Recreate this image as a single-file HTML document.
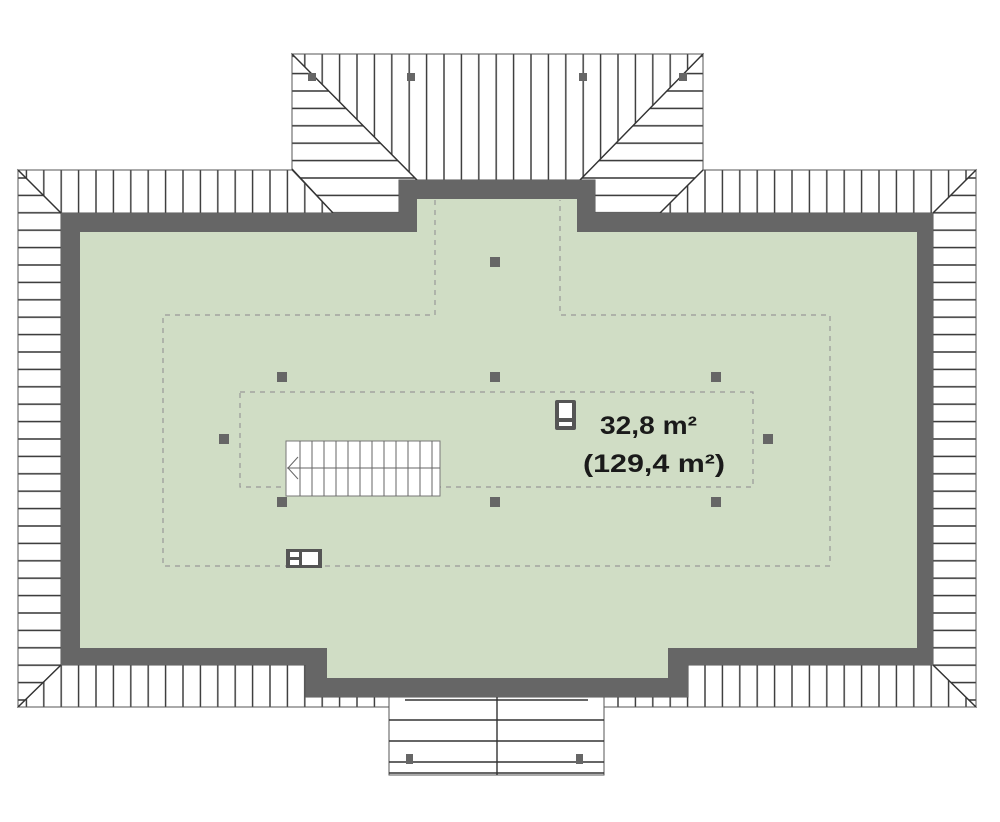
<!DOCTYPE html>
<html><head><style>html,body{margin:0;padding:0;background:#fff;}svg{display:block}</style></head>
<body>
<svg width="1000" height="822" viewBox="0 0 1000 822" xmlns="http://www.w3.org/2000/svg" font-family="Liberation Sans, sans-serif">
<defs>
<pattern id="v" patternUnits="userSpaceOnUse" x="8" y="0" width="17.4" height="20"><rect width="17.4" height="20" fill="#fff"/><line x1="1" y1="0" x2="1" y2="20" stroke="#333" stroke-width="1.4"/></pattern>
<pattern id="h" patternUnits="userSpaceOnUse" x="0" y="3" width="20" height="17.4"><rect width="20" height="17.4" fill="#fff"/><line x1="0" y1="1" x2="20" y2="1" stroke="#333" stroke-width="1.4"/></pattern>
</defs>
<g stroke="#555" stroke-width="1">
<polygon points="292,54 703,54 580,180 417,180" fill="url(#v)"/>
<polygon points="292,54 417,180 399,180 399,213 333,213 292,169" fill="url(#h)"/>
<polygon points="703,54 580,180 595,180 595,213 660,213 703,170" fill="url(#h)"/>
<polygon points="18,170 292,170 333,213 61,213" fill="url(#v)"/>
<polygon points="703,170 976,170 933,213 660,213" fill="url(#v)"/>
<polygon points="18,170 61,213 61,665 18,707" fill="url(#h)"/>
<polygon points="976,170 933,213 933,665 976,707" fill="url(#h)"/>
<polygon points="18,707 61,665 306,665 306,697 688,697 688,665 933,665 976,707" fill="url(#v)"/>
<rect x="389" y="697" width="215" height="78" fill="#fff"/>
</g>
<g stroke="#333" stroke-width="1.4">
<line x1="292" y1="54" x2="417" y2="180"/><line x1="703" y1="54" x2="580" y2="180"/>
<line x1="292" y1="169" x2="333" y2="213"/><line x1="703" y1="170" x2="660" y2="213"/>
<line x1="18" y1="170" x2="61" y2="213"/><line x1="976" y1="170" x2="933" y2="213"/>
<line x1="18" y1="707" x2="61" y2="665"/><line x1="976" y1="707" x2="933" y2="665"/>
<line x1="389" y1="720" x2="604" y2="720"/><line x1="389" y1="741" x2="604" y2="741"/>
<line x1="389" y1="762" x2="604" y2="762"/><line x1="389" y1="773" x2="604" y2="773"/>
<line x1="497" y1="697" x2="497" y2="775"/>
<line x1="405" y1="700" x2="588" y2="700"/>
</g>
<path d="M61,213 H399 V180 H595 V213 H933 V665 H688 V697 H306 V665 H61 Z" fill="#666"/>
<path d="M80,232 H417 V199 H577 V232 H917 V648 H668 V678 H327 V648 H80 Z" fill="#d0ddc5"/>
<g fill="none" stroke="#999" stroke-width="1.2" stroke-dasharray="5,5">
<path d="M435,200 V315 H163 V566 H830 V315 H560 V200"/>
<rect x="240" y="392" width="513" height="95"/>
</g>
<g fill="#666">
<rect x="490" y="257" width="10" height="10"/>
<rect x="277" y="372" width="10" height="10"/><rect x="490" y="372" width="10" height="10"/><rect x="711" y="372" width="10" height="10"/>
<rect x="219" y="434" width="10" height="10"/><rect x="763" y="434" width="10" height="10"/>
<rect x="277" y="497" width="10" height="10"/><rect x="490" y="497" width="10" height="10"/><rect x="711" y="497" width="10" height="10"/>
<rect x="308" y="73" width="8" height="8"/><rect x="407" y="73" width="8" height="8"/><rect x="579" y="73" width="8" height="8"/><rect x="679" y="73" width="8" height="8"/>
<rect x="406" y="754" width="7" height="10"/><rect x="576" y="754" width="7" height="10"/>
</g>
<rect x="286" y="441" width="154" height="55" fill="#fff" stroke="#777" stroke-width="1"/>
<g stroke="#666" stroke-width="1">
<line x1="300" y1="441" x2="300" y2="496"/><line x1="312" y1="441" x2="312" y2="496"/><line x1="324" y1="441" x2="324" y2="496"/><line x1="336" y1="441" x2="336" y2="496"/><line x1="348" y1="441" x2="348" y2="496"/><line x1="360" y1="441" x2="360" y2="496"/><line x1="372" y1="441" x2="372" y2="496"/><line x1="384" y1="441" x2="384" y2="496"/><line x1="396" y1="441" x2="396" y2="496"/><line x1="408" y1="441" x2="408" y2="496"/><line x1="420" y1="441" x2="420" y2="496"/><line x1="432" y1="441" x2="432" y2="496"/>
<line x1="287" y1="468" x2="440" y2="468"/>
<polyline points="298,457 288,468 298,479" fill="none"/>
</g>
<rect x="555" y="400" width="21" height="30" rx="2" fill="#555"/>
<rect x="559" y="403" width="13" height="15" fill="#fff"/>
<rect x="559" y="422" width="13" height="4" fill="#fff"/>
<rect x="286" y="549" width="36" height="19" fill="#555"/>
<rect x="290" y="552" width="9" height="5" fill="#fff"/><rect x="290" y="560" width="9" height="5" fill="#fff"/>
<rect x="302" y="552" width="16" height="13" fill="#fff"/>
<text x="600" y="434" font-size="25" font-weight="bold" fill="#1a1a1a" textLength="97" lengthAdjust="spacingAndGlyphs">32,8 m²</text>
<text x="583" y="472" font-size="25" font-weight="bold" fill="#1a1a1a" textLength="142" lengthAdjust="spacingAndGlyphs">(129,4 m²)</text>
</svg>
</body></html>
